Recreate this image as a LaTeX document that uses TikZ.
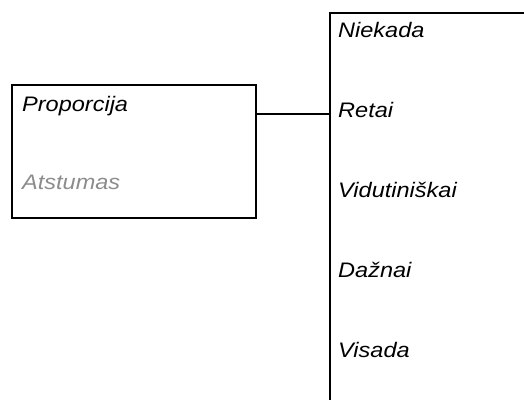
\documentclass[tikz,border=0pt]{standalone}
\usepackage{fontspec}
\setmainfont{Liberation Sans}[FakeStretch=1.12]
\begin{document}
\begin{tikzpicture}[x=1pt,y=-1pt,
  lbl/.style={anchor=base west,inner sep=0pt,font=\fontsize{21}{25}\selectfont\itshape},
  boxline/.style={draw=black,line width=2pt},
  conn/.style={draw=black,line width=1.7pt}]
\useasboundingbox (0,0) rectangle (524,399);
\clip (0,0) rectangle (524,399);
% left box
\node[boxline,inner sep=0pt,minimum width=244pt,minimum height=133pt,anchor=north west] (lbox) at (11,84) {};
\node[lbl] (prop) at (22,111) {Proporcija};
\node[lbl,text={rgb,255:red,140;green,140;blue,140}] (atst) at (22,189) {Atstumas};
% right box (extends past the picture edges)
\draw[boxline] (540,13) -- (329.5,13) -- (329.5,420);
\coordinate (rb) at (329.5,114);
\coordinate (lb) at (255,114);
\draw[conn] (lb) -- (rb);
\node[lbl] (n1) at (338,37) {Niekada};
\node[lbl] (n2) at (338,117) {Retai};
\node[lbl] (n3) at (338,197) {Vidutiniškai};
\node[lbl] (n4) at (338,277) {Dažnai};
\node[lbl] (n5) at (338,357) {Visada};
\end{tikzpicture}
\end{document}
